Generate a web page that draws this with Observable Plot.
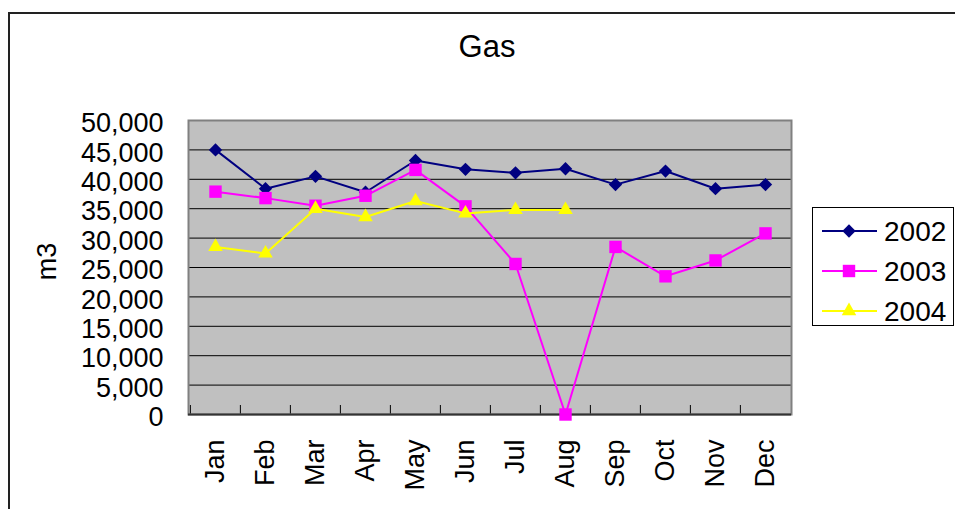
<!DOCTYPE html>
<html>
<head>
<meta charset="utf-8">
<script src="https://cdn.jsdelivr.net/npm/d3@7"></script>
<script src="https://cdn.jsdelivr.net/npm/@observablehq/plot@0.6"></script>
<style>
  html, body { margin: 0; padding: 0; background: #fff; overflow: hidden; }
  #wrap { position: relative; width: 955px; height: 509px; overflow: hidden; font-family: "Liberation Sans", Arial, sans-serif; color: #000; }
  #chart { position: absolute; left: 0; top: 0; }
  #border { position: absolute; left: 8px; top: 12px; width: 960px; height: 520px; border: 2px solid #222; box-sizing: border-box; pointer-events: none; }
  #title { position: absolute; left: 387px; top: 31px; width: 200px; text-align: center; font-size: 31px; line-height: 31px; }
  #ylabel { position: absolute; left: 17px; top: 248px; width: 60px; height: 27px; line-height: 27px; font-size: 27px; text-align: center; transform: rotate(-90deg); }
  #legend { position: absolute; left: 812px; top: 207px; }
</style>
</head>
<body>
<div id="wrap">
  <div id="chart"></div>
  <div id="border"></div>
  <div id="title">Gas</div>
  <div id="ylabel">m3</div>
  <div id="legend"></div>
</div>
<script>
const months = ["Jan","Feb","Mar","Apr","May","Jun","Jul","Aug","Sep","Oct","Nov","Dec"];
const series = ["2002","2003","2004"];
const values2002 = [45000,38400,40500,37800,43200,41700,41100,41800,39100,41400,38400,39100];
const values2003 = [37900,36800,35500,37200,41600,35400,25600,0,28500,23500,26200,30800];
const values2004 = [28500,27400,35000,33600,36300,34200,34800,34800,null,null,null,null];
const colors = ["#000080","#FF00FF","#FFFF00"];
const symbols = ["diamond2","square","triangle"];
const yTicks = [0,5000,10000,15000,20000,25000,30000,35000,40000,45000,50000];
const gridTicks = [5000,10000,15000,20000,25000,30000,35000,40000,45000];

const allValues = [values2002, values2003, values2004];
const data = series.map((s, i) =>
  months.map((m, j) => ({series: s, month: m, value: allValues[i][j]})).filter(d => d.value != null)
);
const markerR = [6, 7, 5.4];

const marks = [
  Plot.frame({fill: "#C0C0C0", stroke: "none"}),
  Plot.gridY(gridTicks, {stroke: "#000", strokeOpacity: 1, strokeWidth: 1}),
  Plot.ruleX(months, {x: d => d, dx: -25.125, insetTop: 285, stroke: "#000", strokeWidth: 1}),
  Plot.frame({stroke: "#808080", strokeWidth: 2}),
  Plot.ruleY([0], {stroke: "#333", strokeWidth: 2}),
  Plot.axisY(yTicks, {tickFormat: d3.format(","), tickSize: 0, tickPadding: 25, fontSize: 27, dy: 3, label: null}),
  Plot.axisX({tickSize: 0, tickRotate: -90, tickPadding: 25, fontSize: 27, label: null})
];
series.forEach((s, i) => {
  marks.push(Plot.line(data[i], {x: "month", y: "value", stroke: colors[i], strokeWidth: 2}));
  marks.push(Plot.dot(data[i], {x: "month", y: "value", fill: colors[i], stroke: "none", symbol: symbols[i], r: markerR[i]}));
});

const chart = Plot.plot({
  width: 955,
  height: 509,
  marginLeft: 188,
  marginRight: 164,
  marginTop: 120,
  marginBottom: 95,
  style: {fontFamily: "Liberation Sans, Arial, sans-serif", fontSize: "27px", background: "transparent", color: "#000"},
  x: {type: "point", domain: months, padding: 0.5, label: null},
  y: {domain: [0, 50000], label: null},
  marks
});
document.getElementById("chart").appendChild(chart);

// Legend
const lw = 142, lh = 119;
const leg = d3.select("#legend").append("svg").attr("width", lw).attr("height", lh);
leg.append("rect").attr("x", 0.5).attr("y", 0.5).attr("width", lw - 1).attr("height", lh - 1)
  .attr("fill", "#fff").attr("stroke", "#000").attr("stroke-width", 1);
const d3Symbols = {diamond2: d3.symbolDiamond2, square: d3.symbolSquare, triangle: d3.symbolTriangle};
series.forEach((s, i) => {
  const y = 24 + i * 40;
  const g = leg.append("g");
  g.append("line").attr("x1", 10).attr("x2", 65).attr("y1", y).attr("y2", y)
    .attr("stroke", colors[i]).attr("stroke-width", 2);
  g.append("path").attr("transform", `translate(37,${y})`)
    .attr("d", d3.symbol(d3Symbols[symbols[i]], Math.PI * markerR[i] * markerR[i])())
    .attr("fill", colors[i]);
  g.append("text").attr("x", 72).attr("y", y).attr("dy", "0.36em")
    .attr("font-size", 28).attr("font-family", "Liberation Sans, Arial, sans-serif").text(s);
});
</script>
</body>
</html>
